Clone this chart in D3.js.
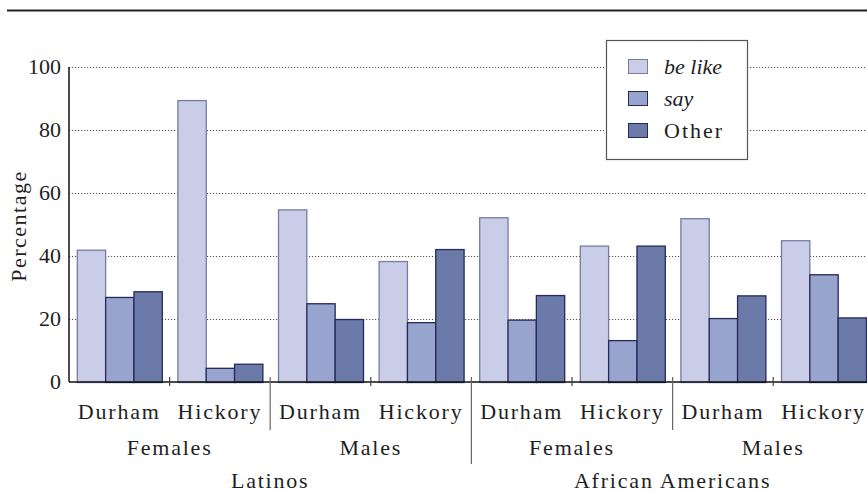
<!DOCTYPE html>
<html><head><meta charset="utf-8"><script src="https://cdn.jsdelivr.net/npm/d3@7"></script>
<style>.ls { font-family: "Liberation Serif"; }</style>
</head>
<body style="margin:0">
<svg id="fig" width="867" height="492"></svg>
<script>
// ---- data ----
const ethnicities = ["Latinos", "African Americans"];
const genders = ["Females", "Males"];
const sites = ["Durham", "Hickory"];
const seriesNames = ["be like", "say", "Other"];
const beLike = [42.0, 89.5, 54.8, 38.4, 52.3, 43.3, 52.0, 45.0];
const say    = [27.0, 4.5, 25.0, 19.0, 19.8, 13.3, 20.3, 34.2];
const other  = [28.8, 5.8, 20.0, 42.2, 27.6, 43.3, 27.5, 20.5];
const yTicks = [0, 20, 40, 60, 80, 100];

// ---- build groups ----
const groups = [];
ethnicities.forEach(e => genders.forEach(g => sites.forEach(s => groups.push({ e, g, s, key: e + "|" + g + "|" + s }))));
groups.forEach((d, i) => { d.values = [beLike[i], say[i], other[i]]; });

const fills = ["#c9cde7", "#97a4cd", "#6c7aa9"];
const strokes = ["#767ba3", "#262a5a", "#262a5a"];

const svg = d3.select("#fig");
const x0 = 69, groupW = 100.6;
const plotBottom = 382, plotTop = 67;

const x = d3.scaleBand().domain(groups.map(d => d.key)).range([x0, x0 + groupW * groups.length]).padding(0);
const xi = d3.scaleBand().domain(seriesNames).range([7.8, groupW - 7.8]).padding(0);
const y = d3.scaleLinear().domain([0, 100]).range([plotBottom, plotTop]);

function addText(parent, str, x, yy, ls) {
  const t = parent.append("text").attr("x", x).attr("y", yy);
  t.attr("font-size", 22).attr("class", "ls")
    .style("font-family", '"Liberation Serif"', "important")
    .style("font-size", "22px", "important");
  if (ls) t.style("letter-spacing", ls + "px", "important");
  t.style("fill", "#1e1e1e", "important");
  t.text(str);
  return t;
}

// top rule
svg.append("line").attr("x1", 7).attr("x2", 867).attr("y1", 10.5).attr("y2", 10.5)
  .attr("stroke", "#222").attr("stroke-width", 2);

// grid (from the y scale)
svg.append("g").selectAll("line").data(yTicks.filter(v => v > 0)).join("line")
  .attr("x1", x0).attr("x2", 867)
  .attr("y1", d => Math.round(y(d)) + 0.5).attr("y2", d => Math.round(y(d)) + 0.5)
  .attr("stroke", "#555").attr("stroke-dasharray", "1.2,1.8").attr("stroke-width", 1);

// legend box
const legend = svg.append("g");
legend.append("rect").attr("x", 606.5).attr("y", 40.5).attr("width", 141).attr("height", 119)
  .attr("fill", "#fff").attr("stroke", "#555").attr("stroke-width", 1.2);
seriesNames.forEach((n, i) => {
  const yy = 59 + i * 32;
  legend.append("rect").attr("x", 628.5).attr("y", yy + 0.5).attr("width", 19).attr("height", 14)
    .attr("fill", fills[i]).attr("stroke", strokes[i]).attr("stroke-width", 1);
  const t = addText(legend, n, 664, yy + 15, i < 2 ? 0 : 2);
  if (i < 2) t.style("font-style", "italic", "important");
});

// bars
const gg = svg.append("g").selectAll("g").data(groups).join("g")
  .attr("transform", d => `translate(${x(d.key)},0)`);
gg.selectAll("rect").data(d => d.values.map((v, i) => ({ v, i, n: seriesNames[i] }))).join("rect")
  .attr("x", d => xi(d.n) + 0.5)
  .attr("y", d => y(d.v) + 0.5)
  .attr("width", xi.bandwidth())
  .attr("height", d => plotBottom - y(d.v))
  .attr("fill", d => fills[d.i])
  .attr("stroke", d => strokes[d.i])
  .attr("stroke-width", 1.3);

// y axis line
svg.append("line").attr("x1", x0).attr("x2", x0).attr("y1", y(100)).attr("y2", plotBottom)
  .attr("stroke", "#111").attr("stroke-width", 1.5);
// y tick labels
yTicks.forEach(t => {
  addText(svg, String(t), x0 - 8, y(t) + 7).attr("text-anchor", "end");
});

// x axis baseline
svg.append("line").attr("x1", x0).attr("x2", 867).attr("y1", plotBottom).attr("y2", plotBottom)
  .attr("stroke", "#111").attr("stroke-width", 1.5);

// percentage label
addText(svg, "Percentage", 0, 0, 1.5).attr("transform", "translate(26,226) rotate(-90)")
  .attr("text-anchor", "middle");

// site ticks & labels
groups.forEach((d, i) => {
  const cx = x(d.key) + groupW / 2;
  addText(svg, d.s, cx, 419, 1.8).attr("text-anchor", "middle");
  if (i > 0) {
    const bx = x(d.key);
    let y2 = 386, col = "#444";
    if (d.s === sites[0]) { y2 = 430; col = "#666"; }
    if (d.s === sites[0] && d.g === genders[0]) { y2 = 464; }
    svg.append("line").attr("x1", bx).attr("x2", bx).attr("y1", 377).attr("y2", y2)
      .attr("stroke", col).attr("stroke-width", 1.2);
  }
});

// gender & ethnicity labels
ethnicities.forEach((e, ei) => {
  genders.forEach((g, gi) => {
    const idx = ei * 4 + gi * 2;
    addText(svg, g, x(groups[idx].key) + groupW, 455, 1.8).attr("text-anchor", "middle");
  });
  addText(svg, e, x(groups[ei * 4].key) + groupW * 2, 488, 1.8).attr("text-anchor", "middle");
});
</script>
</body>
</html>
